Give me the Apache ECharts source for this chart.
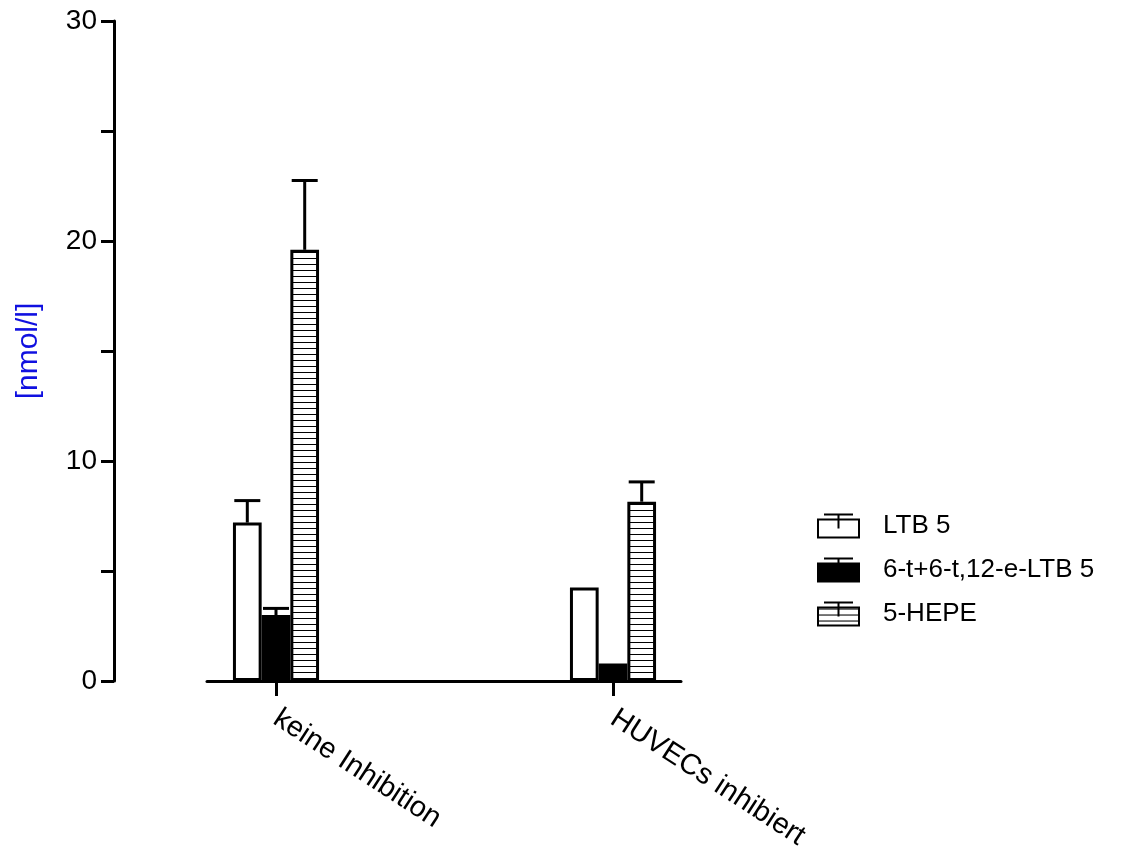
<!DOCTYPE html>
<html>
<head>
<meta charset="utf-8">
<script src="https://cdn.jsdelivr.net/npm/echarts@6/dist/echarts.min.js"></script>
<style>html,body{margin:0;padding:0;background:#fff}#c{width:1138px;height:850px}</style>
</head>
<body>
<div id="c"></div>
<script>
const categories = ['keine Inhibition', 'HUVECs inhibiert'];
const seriesNames = ['LTB 5', '6-t+6-t,12-e-LTB 5', '5-HEPE'];
const ltb5 = [7.2, 4.25];
const ltb5Upper = [8.2, 4.25];
const trans = [3.0, 0.8];
const transUpper = [3.3, 0.8];
const hepe = [19.6, 8.15];
const hepeUpper = [22.75, 9.05];
const yTicks = [0, 10, 20, 30];

const FONT = 'Liberation Sans, Arial, sans-serif';
const BAR_W = 28.7;
const CAP_W = 26;

// horizontal stripe pattern
const pc = document.createElement('canvas');
pc.width = 8; pc.height = 6;
const pctx = pc.getContext('2d');
pctx.fillStyle = '#fff'; pctx.fillRect(0, 0, 8, 6);
pctx.fillStyle = '#000'; pctx.fillRect(0, 0, 8, 1);
const stripe = { image: pc, repeat: 'repeat' };

const fills = ['#ffffff', '#000000', stripe];
const values = [ltb5, trans, hepe];
const uppers = [ltb5Upper, transUpper, hepeUpper];

const legendIcon = 'path://M6,0L35,0M20.5,0L20.5,14M0,5L41,5L41,23L0,23Z';

const series = [];
values.forEach((vals, k) => {
  series.push({
    name: seriesNames[k],
    type: 'bar',
    xAxisIndex: 0, yAxisIndex: 0,
    barWidth: BAR_W,
    barGap: '0%',
    data: vals,
    itemStyle: { color: fills[k], borderColor: '#000', borderWidth: 3 },
    emphasis: { disabled: true },
    silent: true,
    z: 2
  });
});
values.forEach((vals, k) => {
  series.push({
    type: 'custom',
    xAxisIndex: 0, yAxisIndex: 0,
    silent: true,
    z: 5,
    data: vals.map((v, i) => [i, v, uppers[k][i]]),
    renderItem: function (params, api) {
      const x = api.value(0), y = api.value(1), up = api.value(2);
      if (!(up > y)) return null;
      const p0 = api.coord([x, y]);
      const p1 = api.coord([x, up]);
      const off = (k - 1) * BAR_W;
      const cx = p0[0] + off;
      const st = { stroke: '#000', lineWidth: 3 };
      return {
        type: 'group',
        children: [
          { type: 'line', shape: { x1: cx, y1: p0[1], x2: cx, y2: p1[1] }, style: st },
          { type: 'line', shape: { x1: cx - CAP_W / 2, y1: p1[1], x2: cx + CAP_W / 2, y2: p1[1] }, style: st }
        ]
      };
    }
  });
});

const chart = echarts.init(document.getElementById('c'));
chart.setOption({
  animation: false,
  backgroundColor: '#fff',
  textStyle: { fontFamily: FONT },
  legend: {
    data: seriesNames,
    orient: 'vertical',
    left: 812,
    top: 508,
    itemWidth: 41,
    itemHeight: 23,
    itemGap: 18,
    icon: legendIcon,
    itemStyle: { borderColor: '#000', borderWidth: 2 },
    textStyle: { fontSize: 26, color: '#000', fontFamily: FONT, padding: [0, 0, 0, 19] },
    selectedMode: false
  },
  grid: [
    { left: 107.5, right: 356.5, top: 21, bottom: 169, containLabel: false, outerBoundsMode: 'none' },
    { left: 207, right: 457, top: 21, bottom: 169, containLabel: false, outerBoundsMode: 'none' }
  ],
  xAxis: [
    {
      type: 'category', gridIndex: 0, data: categories,
      axisLine: { show: false },
      axisTick: { show: true, alignWithLabel: true, length: 15, lineStyle: { color: '#000', width: 3 } },
      axisLabel: { rotate: -33, fontSize: 29, color: '#000', margin: 35, fontFamily: FONT },
      splitLine: { show: false }
    },
    {
      type: 'value', gridIndex: 1, min: 0, max: 1,
      axisLine: { show: true, onZero: false, lineStyle: { color: '#000', width: 3 } },
      axisTick: { show: false }, axisLabel: { show: false }, splitLine: { show: false }
    }
  ],
  yAxis: [
    { type: 'value', gridIndex: 0, min: yTicks[0], max: yTicks[yTicks.length - 1], show: false },
    {
      type: 'value', gridIndex: 1, min: yTicks[0], max: yTicks[yTicks.length - 1], interval: 10,
      offset: 93,
      name: '[nmol/l]', nameLocation: 'middle', nameGap: 70, nameRotate: 90,
      nameTextStyle: { color: '#1010e0', fontSize: 30, fontFamily: FONT },
      axisLine: { show: true, onZero: false, lineStyle: { color: '#000', width: 3 } },
      axisTick: { show: true, length: 13, lineStyle: { color: '#000', width: 3 } },
      minorTick: { show: true, splitNumber: 2, length: 13, lineStyle: { color: '#000', width: 3 } },
      axisLabel: { fontSize: 28, color: '#000', margin: 17, fontFamily: FONT },
      splitLine: { show: false }
    }
  ],
  series: series
});
</script>
</body>
</html>
